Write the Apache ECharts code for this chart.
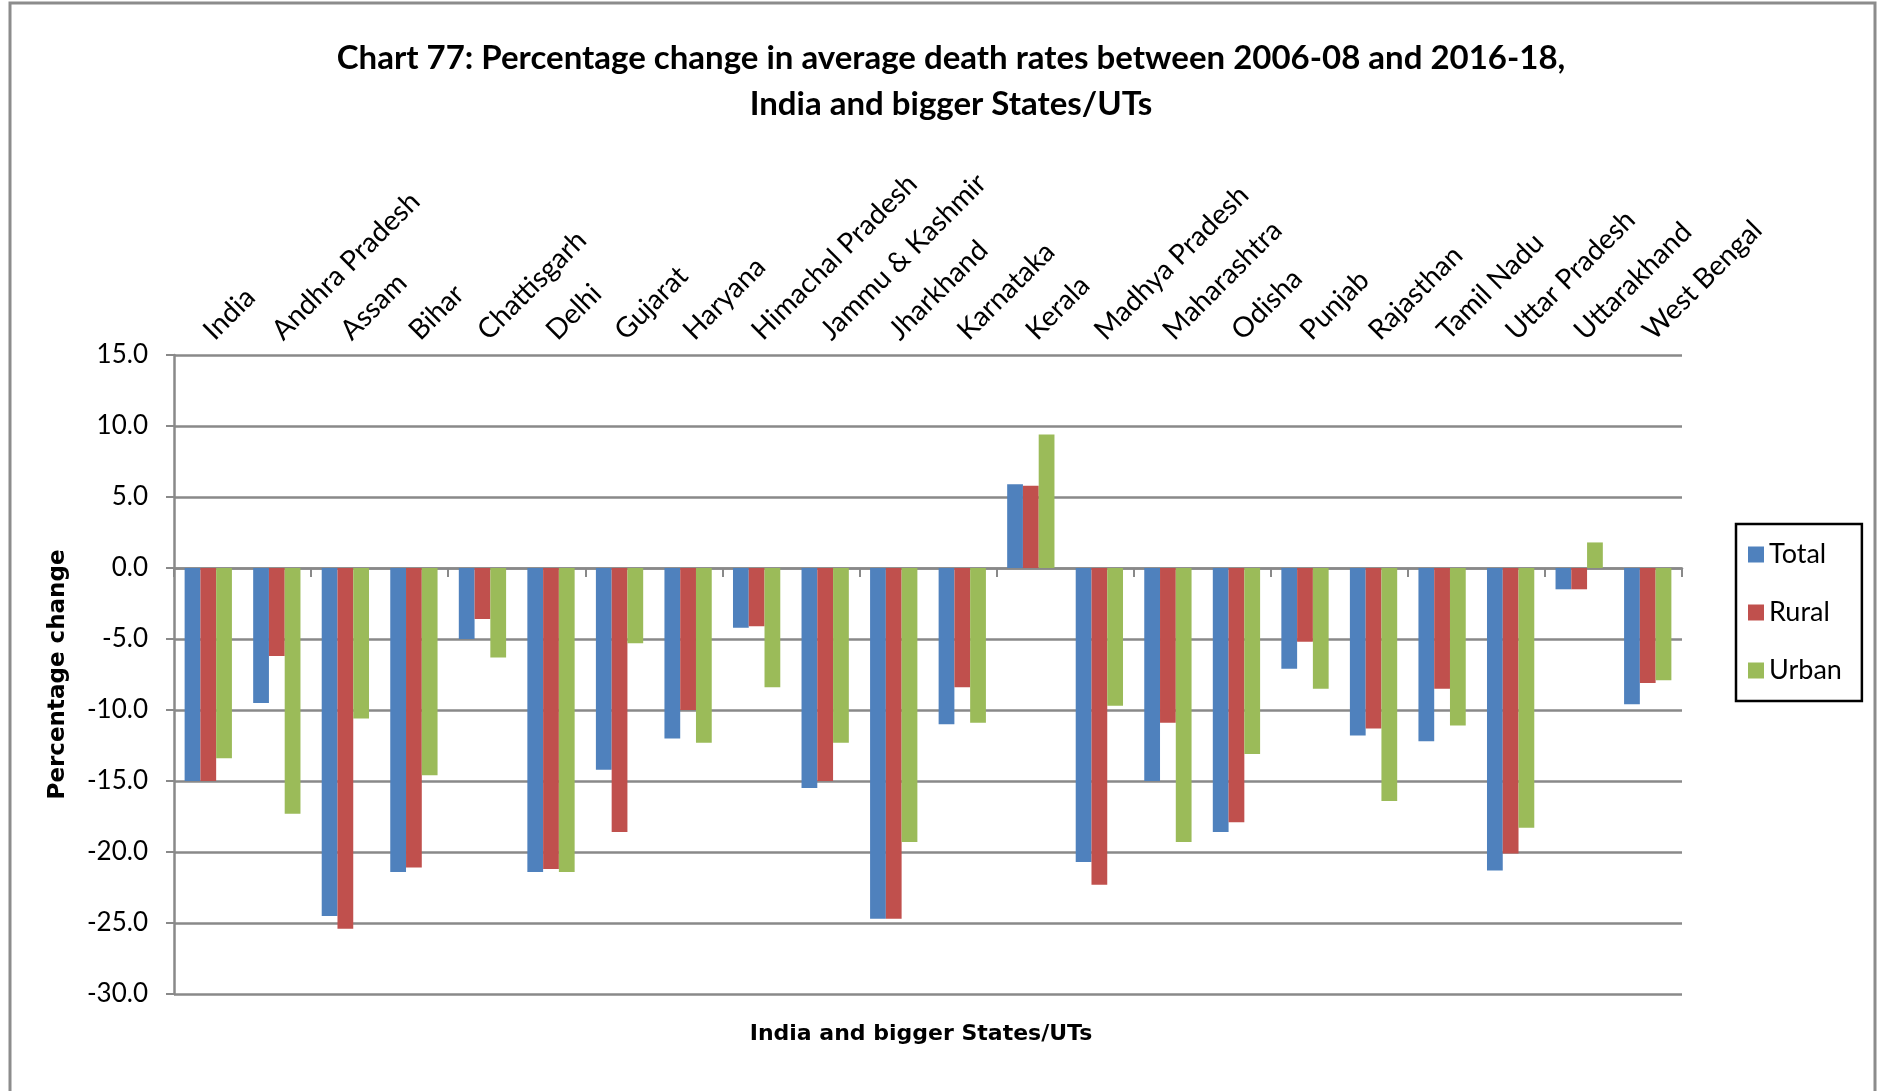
<!DOCTYPE html>
<html>
<head>
<meta charset="utf-8">
<script src="https://cdn.jsdelivr.net/npm/echarts@6/dist/echarts.min.js"></script>
<style>
  html, body { margin: 0; padding: 0; background: #fff; }
  #chartBox { width: 1882px; height: 1091px; }
</style>
</head>
<body>
<div id="chartBox"></div>
<script>
var states = ['India', 'Andhra Pradesh', 'Assam', 'Bihar', 'Chattisgarh', 'Delhi', 'Gujarat', 'Haryana',
  'Himachal Pradesh', 'Jammu & Kashmir', 'Jharkhand', 'Karnataka', 'Kerala', 'Madhya Pradesh', 'Maharashtra',
  'Odisha', 'Punjab', 'Rajasthan', 'Tamil Nadu', 'Uttar Pradesh', 'Uttarakhand', 'West Bengal'];

var total = [-15.0, -9.5, -24.5, -21.4, -5.0, -21.4, -14.2, -12.0, -4.2, -15.5, -24.7,
  -11.0, 5.9, -20.7, -15.0, -18.6, -7.1, -11.8, -12.2, -21.3, -1.5, -9.6];
var rural = [-15.0, -6.2, -25.4, -21.1, -3.6, -21.2, -18.6, -10.0, -4.1, -15.0, -24.7,
  -8.4, 5.8, -22.3, -10.9, -17.9, -5.2, -11.3, -8.5, -20.1, -1.5, -8.1];
var urban = [-13.4, -17.3, -10.6, -14.6, -6.3, -21.4, -5.3, -12.3, -8.4, -12.3, -19.3,
  -10.9, 9.4, -9.7, -19.3, -13.1, -8.5, -16.4, -11.1, -18.3, 1.8, -7.9];

var fontName = 'Lato, "Open Sans", sans-serif';
var boldName = '"DejaVu Sans", Verdana, sans-serif';

window.addEventListener('load', function() {
	var myChart = echarts.init(document.getElementById('chartBox'));

	// 柱状图的配置
	var option = {
		backgroundColor: '#fff',
		animation: false,
		textStyle: { fontFamily: fontName },
		title: [{
			text: 'Chart 77: Percentage change in average death rates between 2006-08 and 2016-18,\nIndia and bigger States/UTs',
			left: 946,
			top: 30,
			textAlign: 'center',
			textStyle: { fontSize: 33, fontWeight: 'bold', color: '#000', lineHeight: 46, fontFamily: fontName }
		}, {
			text: 'India and bigger States/UTs',
			left: 916,
			top: 1018,
			textAlign: 'center',
			textStyle: { fontSize: 22, fontWeight: 'bold', color: '#000', fontFamily: boldName }
		}],
		graphic: [{
			type: 'rect',
			shape: { x: 10, y: 3, width: 1865, height: 1100 },
			style: { fill: 'none', stroke: '#8c8c8c', lineWidth: 3 }
		}],
		legend: {
			orient: 'vertical',
			left: 1736,
			top: 524,
			data: ['Total', 'Rural', 'Urban'],
			icon: 'rect',
			itemWidth: 16,
			itemHeight: 16,
			itemGap: 31,
			padding: [17, 20, 17, 12],
			borderColor: '#000',
			borderWidth: 2.5,
			textStyle: { fontSize: 27, color: '#000', fontFamily: fontName }
		},
		grid: { left: 174, right: 200, top: 355, bottom: 97 },
		xAxis: [{
			type: 'category',
			data: states,
			position: 'bottom',
			axisLine: { onZero: true, lineStyle: { color: '#898989', width: 2.5 } },
			axisTick: { show: true, length: 9, lineStyle: { color: '#898989', width: 2 } },
			axisLabel: { show: false }
		}, {
			type: 'category',
			data: states,
			position: 'top',
			axisLine: { show: false },
			axisTick: { show: false },
			axisLabel: { rotate: -45, fontSize: 28, color: '#000', margin: 20, interval: 0, fontFamily: fontName }
		}],
		yAxis: {
			type: 'value',
			min: -30,
			max: 15,
			interval: 5,
			name: 'Percentage change',
			nameLocation: 'middle',
			nameGap: 104,
			nameTextStyle: { fontSize: 23, fontWeight: 'bold', color: '#000', fontFamily: boldName },
			axisLine: { show: true, lineStyle: { color: '#898989', width: 2.5 } },
			axisTick: { show: true, length: 8, lineStyle: { color: '#898989', width: 2 } },
			axisLabel: {
				fontSize: 26, color: '#000', margin: 26, fontFamily: fontName,
				formatter: function(v) { return v.toFixed(1); }
			},
			splitLine: { lineStyle: { color: '#898989', width: 2.5 } }
		},
		series: [{
			name: 'Total',
			type: 'bar',
			data: total,
			barGap: '0%',
			barCategoryGap: '31%',
			itemStyle: { color: '#4F81BD' }
		}, {
			name: 'Rural',
			type: 'bar',
			data: rural,
			itemStyle: { color: '#C0504D' }
		}, {
			name: 'Urban',
			type: 'bar',
			data: urban,
			itemStyle: { color: '#9BBB59' }
		}]
	};
	myChart.setOption(option);
});
</script>
</body>
</html>
